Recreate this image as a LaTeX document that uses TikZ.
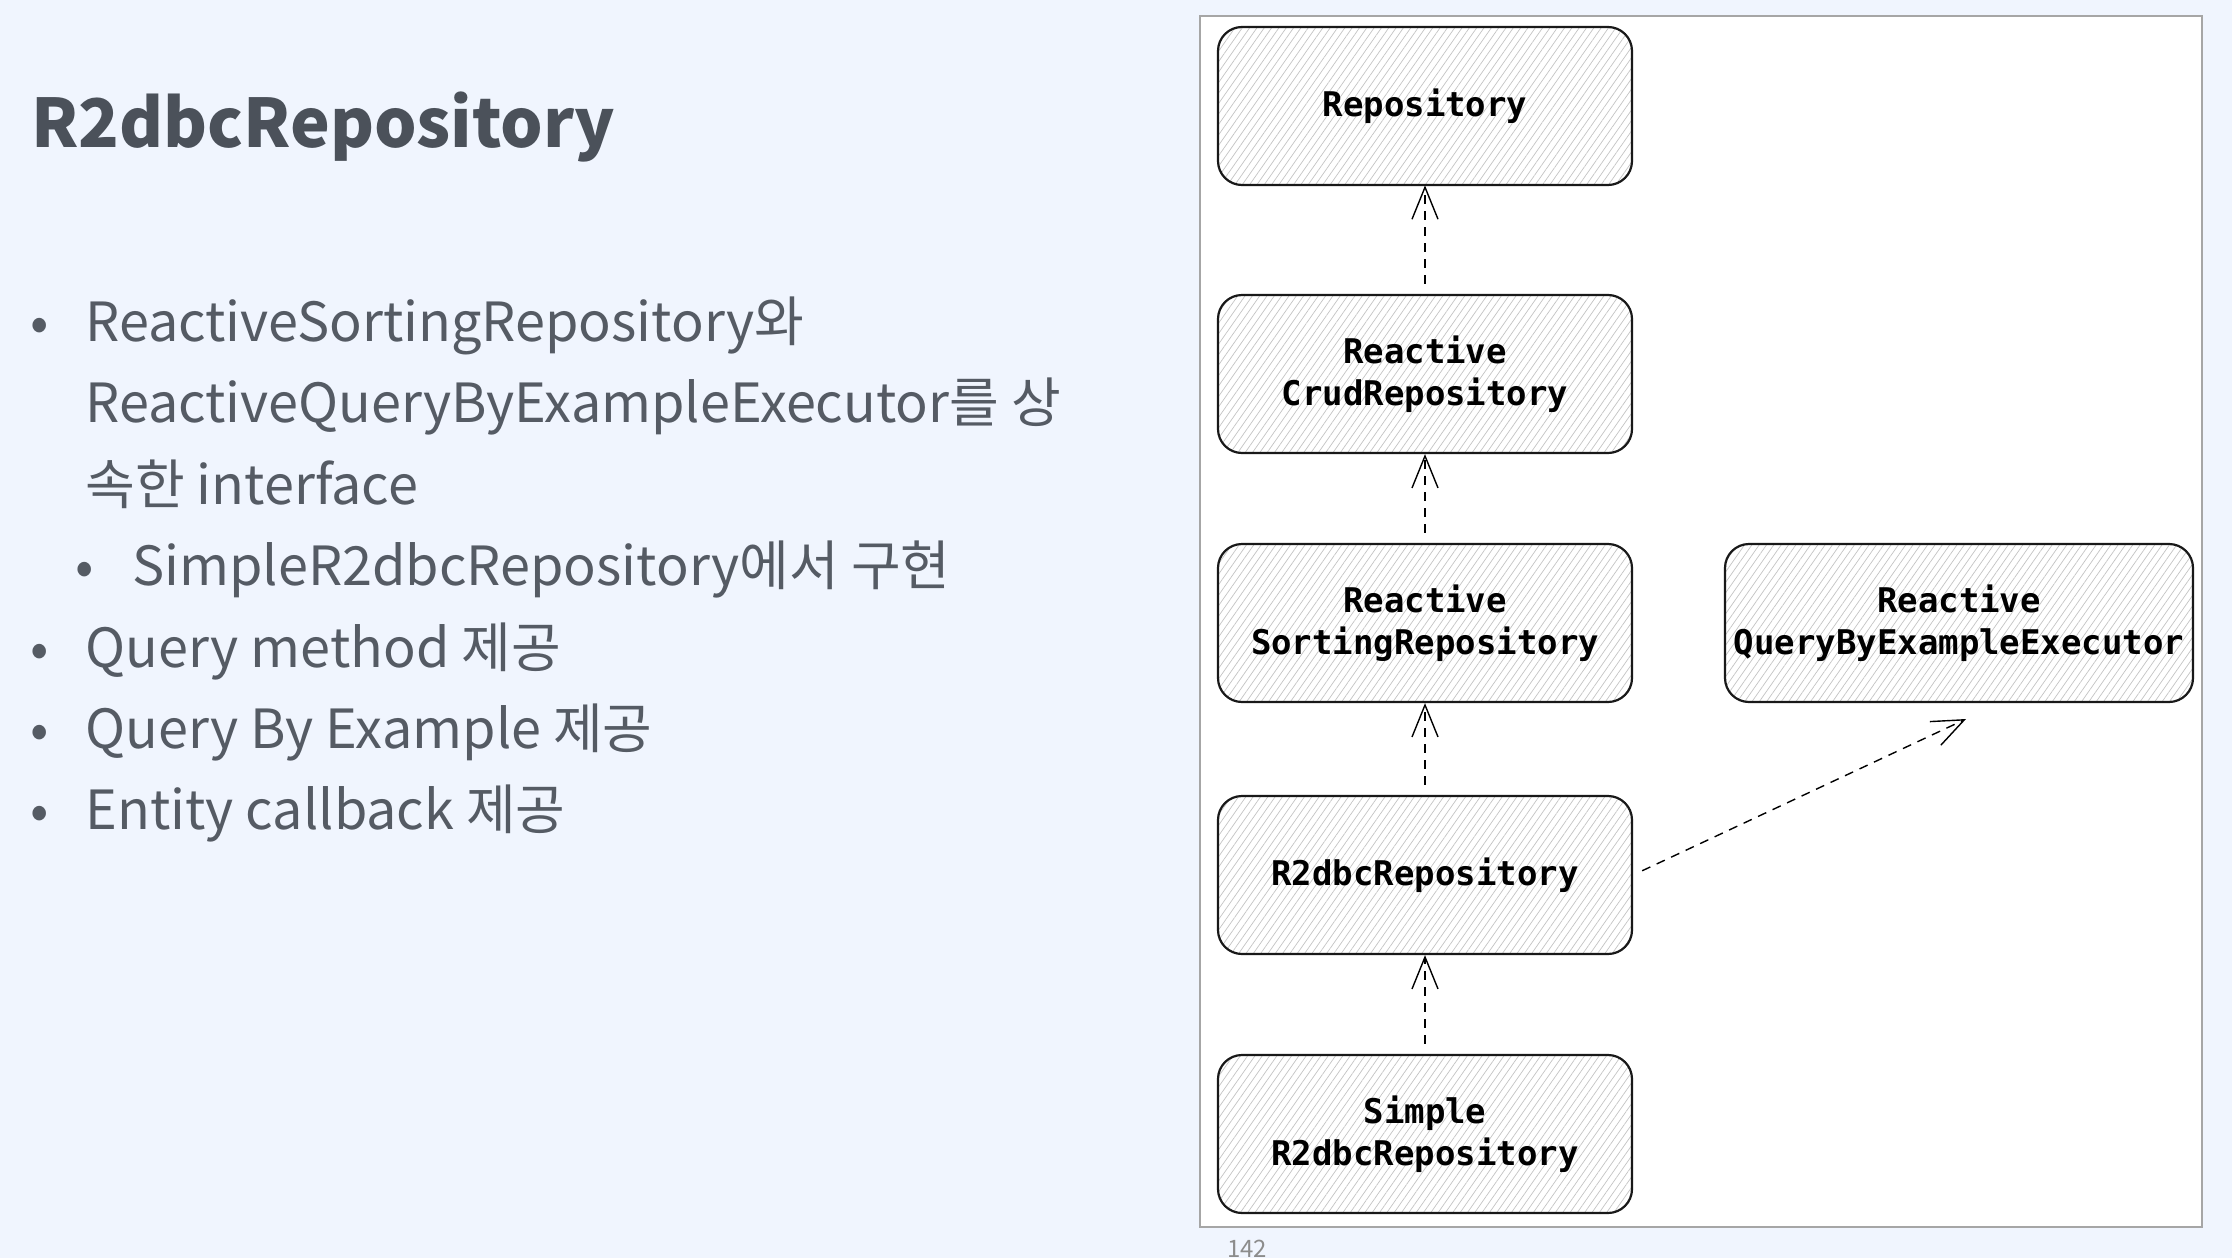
\documentclass[tikz,border=0pt]{standalone}
\usepackage{fontspec}
\setmainfont{Noto Sans CJK KR}
\setmonofont{DejaVu Sans Mono}
\usetikzlibrary{positioning,arrows.meta,patterns.meta}

\definecolor{slidebg}{HTML}{F0F5FE}
\definecolor{slidetext}{HTML}{555B64}
\definecolor{slidetitle}{HTML}{4B515A}
\definecolor{hatch}{HTML}{C4C4C4}

\tikzset{
  iface/.style={draw=black!90, line width=1.1pt, rounded corners=12pt,
    minimum width=207pt, minimum height=79pt, inner sep=0pt, align=center,
    font=\ttfamily\bfseries\fontsize{17}{21}\selectfont,
    preaction={fill=white},
    pattern={Lines[angle=55,distance=3pt,line width=0.35pt]}, pattern color=hatch},
  realize/.style={-{Straight Barb[length=16pt,width=13pt]}, dash pattern=on 4.5pt off 3.5pt,
    line width=0.7pt, shorten <=5pt},
  bullet/.style={anchor=base west, inner sep=0pt, text=slidetext,
    font=\fontsize{27}{31}\selectfont},
}

\begin{document}
\begin{tikzpicture}[x=0.5pt,y=-0.5pt,on grid]
   \fill[slidebg] (0,0) rectangle (2232,1258);
   \useasboundingbox (0,0) rectangle (2232,1258);
   \draw[black!35, fill=white, line width=0.6pt] (1200,16) rectangle (2202,1227);

   % left column
   \node[anchor=base west, inner sep=0pt, text=slidetitle,
     font=\bfseries\fontsize{33.5}{38}\selectfont] (title) at (31,147) {R2dbcRepository};

   \node[bullet, anchor=base] (d1) at (40,341) {•};
   \node[bullet] (l1) at (85,341) {ReactiveSortingRepository와};
   \node[bullet] (l2) at (85,422) {ReactiveQueryByExampleExecutor를 상};
   \node[bullet] (l3) at (85,504) {속한 interface};
   \node[bullet, anchor=base] (d2) at (85,585) {•};
   \node[bullet] (l4) at (132,585) {SimpleR2dbcRepository에서 구현};
   \node[bullet, anchor=base] (d3) at (40,667) {•};
   \node[bullet] (l5) at (85,667) {Query method 제공};
   \node[bullet, anchor=base] (d4) at (40,748) {•};
   \node[bullet] (l6) at (85,748) {Query By Example 제공};
   \node[bullet, anchor=base] (d5) at (40,829) {•};
   \node[bullet] (l7) at (85,829) {Entity callback 제공};

   % diagram
   \node[iface] (repo) at (1425,106) {Repository};
   \node[iface] (crud) [below=134pt of repo] {Reactive\\CrudRepository};
   \node[iface] (sorting) [below=124.5pt of crud] {Reactive\\SortingRepository};
   \node[iface, minimum width=234pt] (qbe) [right=267pt of sorting] {Reactive\\QueryByExampleExecutor};
   \node[iface] (r2dbc) [below=126pt of sorting] {R2dbcRepository};
   \node[iface] (simple) [below=129.5pt of r2dbc] {Simple\\R2dbcRepository};
   \coordinate (qbein) at (1966,719);

   \draw[realize] (crud) -- (repo);
   \draw[realize] (sorting) -- (crud);
   \draw[realize] (r2dbc) -- (sorting);
   \draw[realize] (simple) -- (r2dbc);
   \draw[realize] (r2dbc.east) -- (qbein);

   \node[text=black!45, font=\fontsize{12}{14}\selectfont] (pageno) at (1247,1249) {142};
\end{tikzpicture}
\end{document}
